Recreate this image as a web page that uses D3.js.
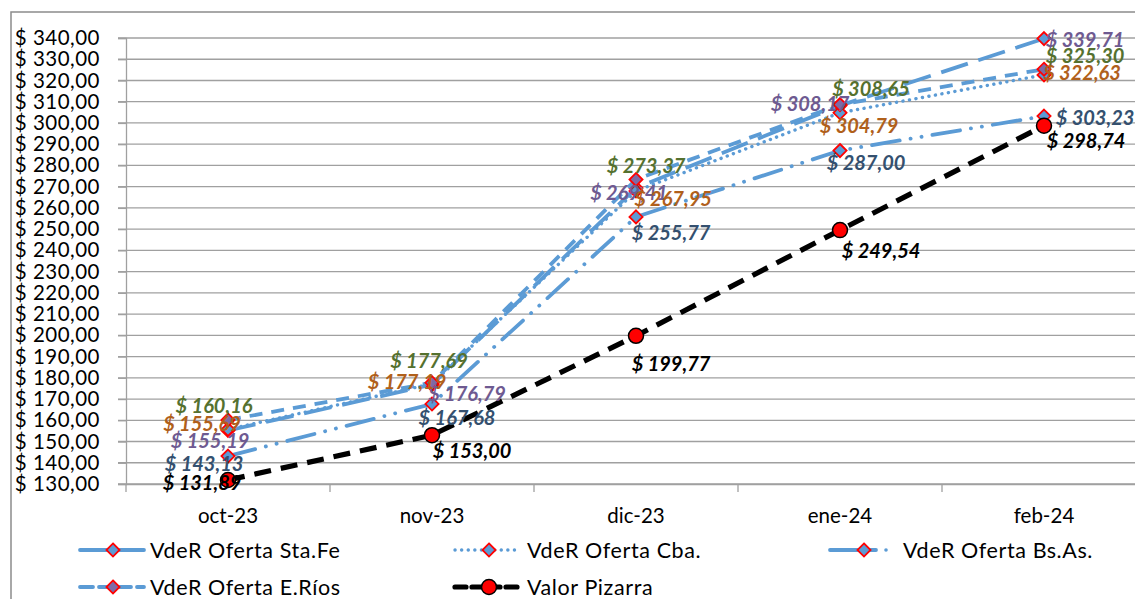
<!DOCTYPE html>
<html>
<head>
<meta charset="utf-8">
<script src="https://cdn.jsdelivr.net/npm/d3@7"></script>
<style>
  body { margin: 0; background: #fff; }
  svg { display: block; }
</style>
</head>
<body>
<div id="vis-container"></div>
<script>
// months on the x axis
const months = ["oct-23", "nov-23", "dic-23", "ene-24", "feb-24"];

// series values
const staFe   = [155.19, 176.79, 269.41, 308.17, 339.71];
const cba     = [155.69, 177.19, 267.95, 304.79, 322.63];
const bsAs    = [143.13, 167.68, 255.77, 287.00, 303.23];
const eRios   = [160.16, 177.69, 273.37, 308.65, 325.30];
const pizarra = [131.89, 153.00, 199.77, 249.54, 298.74];

const seriesNames = ["VdeR Oferta Sta.Fe", "VdeR Oferta Cba.", "VdeR Oferta Bs.As.", "VdeR Oferta E.Ríos", "Valor Pizarra"];

const yTicks = d3.range(130, 341, 10);

const width = 1135;
const height = 599;
const margin = { top: 38, left: 126, bottom: 115 };
const bandW = 204;

const fmt = d3.formatLocale({ decimal: ",", thousands: ".", grouping: [3], currency: ["$ ", ""] }).format("$,.2f");

// line styles per series (layout only)
const styles = [
  { stroke: "#5B9BD5", w: 3.8, dash: "28 11", cap: "butt", fill: "#5B9BD5", labelColor: "#6E5A91" },
  { stroke: "#5B9BD5", w: 3.4, dash: "0.1 6.5", cap: "round", fill: "#5B9BD5", labelColor: "#B0601B" },
  { stroke: "#5B9BD5", w: 3.8, dash: "28 11 0.1 11 0.1 11", cap: "round", fill: "#5B9BD5", labelColor: "#34506F" },
  { stroke: "#5B9BD5", w: 3.8, dash: "13 9", cap: "butt", fill: "#7D6AA6", labelColor: "#55712F" },
  { stroke: "#000000", w: 5.2, dash: "17 10", cap: "butt", fill: "#ff0000", labelColor: "#000000" }
];

// data label offsets from each point [dx, dy]
const labelOffsets = [
  [[-18, 9], [35, 8], [-7, 4], [-30, -3], [41, 0]],
  [[-26, -6], [-25, -3], [37, 7], [19, 12], [38, -3]],
  [[-24, 7], [25, 13], [35, 15], [26, 11], [51, 1]],
  [[-14, -15], [-3, -23], [10, -15], [31, -17], [41, -14]],
  [[-26, 2], [40, 15], [35, 27], [41, 20], [42, 14]]
];

const allSeries = [staFe, cba, bsAs, eRios, pizarra];

const svg = d3.select("#vis-container")
  .append("svg")
  .attr("width", width)
  .attr("height", height)
  .attr("viewBox", [0, 0, width, height]);

// chart frame (runs off the right/bottom edge)
svg.append("rect")
  .attr("x", 11).attr("y", 12)
  .attr("width", width + 20).attr("height", height + 20)
  .attr("fill", "#fff")
  .attr("stroke", "#8c8c8c")
  .attr("stroke-width", 1.5);

const x = d3.scaleBand()
  .domain(months)
  .range([margin.left, margin.left + bandW * months.length]);

const y = d3.scaleLinear()
  .domain([130, 340])
  .range([484, margin.top]);

// gridlines
svg.append("g")
  .selectAll("line")
  .data(yTicks)
  .enter()
  .append("line")
  .attr("x1", 118)
  .attr("x2", width + 10)
  .attr("y1", d => y(d))
  .attr("y2", d => y(d))
  .attr("stroke", "#a0a0a0")
  .attr("stroke-width", 1.3);

// y axis
const yAxis = svg.append("g")
  .attr("transform", `translate(${margin.left},0)`)
  .call(d3.axisLeft(y).tickValues(yTicks).tickFormat(fmt).tickSize(8).tickPadding(18));
yAxis.select(".domain").attr("stroke", "#a0a0a0").attr("stroke-width", 1.3);
yAxis.selectAll(".tick line").attr("stroke", "#a0a0a0").attr("stroke-width", 1.3);
yAxis.selectAll("text")
  .attr("font-family", "Lato, 'Open Sans', sans-serif")
  .attr("font-size", "20.5px")
  .attr("letter-spacing", "0.5px")
  .attr("fill", "#000");

// x axis
const xAxis = svg.append("g")
  .attr("transform", `translate(0,${y(130)})`)
  .call(d3.axisBottom(x).tickSize(0).tickPadding(24));
xAxis.select(".domain").attr("stroke", "#a0a0a0").attr("stroke-width", 1.3);
xAxis.selectAll("text")
  .attr("font-family", "Lato, 'Open Sans', sans-serif")
  .attr("font-size", "20.5px")
  .attr("fill", "#000");
// category separators
xAxis.selectAll(".sep")
  .data(d3.range(months.length + 1))
  .enter()
  .append("line")
  .attr("x1", i => margin.left + i * bandW)
  .attr("x2", i => margin.left + i * bandW)
  .attr("y1", 0)
  .attr("y2", 8)
  .attr("stroke", "#a0a0a0")
  .attr("stroke-width", 1.3);

const cx = (i) => x(months[i]) + x.bandwidth() / 2;

const line = d3.line()
  .x((d, i) => cx(i))
  .y(d => y(d));

const diamond = d3.symbol().type(d3.symbolDiamond2).size(110);

allSeries.forEach((vals, s) => {
  const st = styles[s];
  const g = svg.append("g");
  g.append("path")
    .datum(vals)
    .attr("d", line)
    .attr("fill", "none")
    .attr("stroke", st.stroke)
    .attr("stroke-width", st.w)
    .attr("stroke-dasharray", st.dash)
    .attr("stroke-linecap", st.cap);

  if (s < 4) {
    g.selectAll(".mk")
      .data(vals)
      .enter()
      .append("path")
      .attr("d", diamond)
      .attr("transform", (d, i) => `translate(${cx(i)},${y(d)})`)
      .attr("fill", st.fill)
      .attr("stroke", "#ff0000")
      .attr("stroke-width", 1.8);
  } else {
    g.selectAll(".mk")
      .data(vals)
      .enter()
      .append("circle")
      .attr("cx", (d, i) => cx(i))
      .attr("cy", d => y(d))
      .attr("r", 7.5)
      .attr("fill", st.fill)
      .attr("stroke", "#000")
      .attr("stroke-width", 1.5);
  }
});

// data labels on top
allSeries.forEach((vals, s) => {
  svg.append("g")
    .selectAll("text")
    .data(vals)
    .enter()
    .append("text")
    .attr("x", (d, i) => cx(i) + labelOffsets[s][i][0])
    .attr("y", (d, i) => y(d) + labelOffsets[s][i][1])
    .attr("text-anchor", "middle")
    .attr("dominant-baseline", "central")
    .attr("font-family", "Lato, 'Open Sans', sans-serif")
    .attr("font-size", "20px")
    .attr("font-weight", "bold")
    .attr("font-style", "italic")
    .attr("fill", styles[s].labelColor)
    .text(fmt);
});

// legend
const legendPos = [
  { x: 80, y: 550, tx: 150 },
  { x: 455, y: 550, tx: 527 },
  { x: 830, y: 550, tx: 903 },
  { x: 80, y: 587, tx: 150 },
  { x: 455, y: 587, tx: 527 }
];
const legDash = ["", "0.1 6.5", "", "13 6", "11 6"];
const legMarkerX = [113, 489, 864, 113, 489];

seriesNames.forEach((name, s) => {
  const p = legendPos[s];
  const st = styles[s];
  const g = svg.append("g");
  if (s === 2) {
    g.append("line").attr("x1", p.x).attr("x2", p.x + 46).attr("y1", p.y).attr("y2", p.y)
      .attr("stroke", st.stroke).attr("stroke-width", st.w).attr("stroke-linecap", "round");
    g.append("circle").attr("cx", p.x + 56).attr("cy", p.y).attr("r", 1.8).attr("fill", st.stroke);
  } else {
    g.append("line")
      .attr("x1", p.x).attr("x2", p.x + 64)
      .attr("y1", p.y).attr("y2", p.y)
      .attr("stroke", st.stroke)
      .attr("stroke-width", st.w)
      .attr("stroke-dasharray", legDash[s] || null)
      .attr("stroke-linecap", "round");
  }
  if (s < 4) {
    g.append("path")
      .attr("d", diamond)
      .attr("transform", `translate(${legMarkerX[s]},${p.y})`)
      .attr("fill", st.fill)
      .attr("stroke", "#ff0000")
      .attr("stroke-width", 1.8);
  } else {
    g.append("circle")
      .attr("cx", legMarkerX[s]).attr("cy", p.y).attr("r", 7.5)
      .attr("fill", st.fill).attr("stroke", "#000").attr("stroke-width", 1.5);
  }
  g.append("text")
    .attr("x", p.tx)
    .attr("y", p.y)
    .attr("dominant-baseline", "central")
    .attr("font-family", "Lato, 'Open Sans', sans-serif")
    .attr("font-size", "21.5px")
    .attr("letter-spacing", "0.6px")
    .attr("fill", "#000")
    .text(name);
});
</script>
</body>
</html>
